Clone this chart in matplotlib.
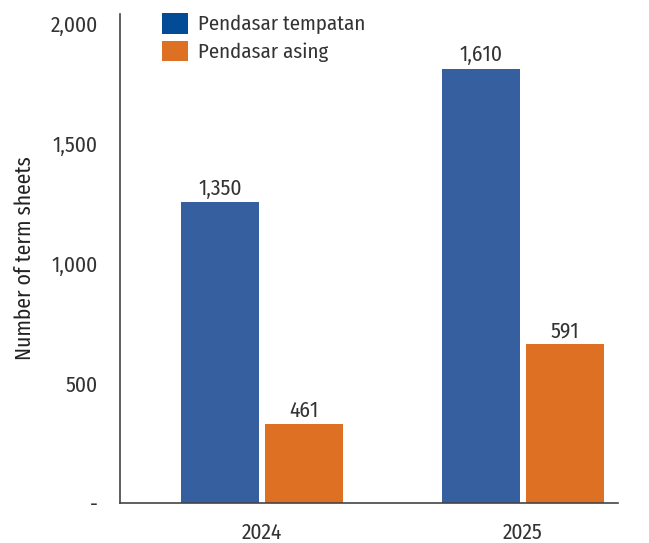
import matplotlib
matplotlib.use("Agg")
import matplotlib.pyplot as plt
from matplotlib.patches import Patch
import numpy as np

plt.rcParams['font.family'] = ['Fira Sans Condensed', 'Roboto Condensed', 'DejaVu Sans']

years = ["2024", "2025"]
series_names = ["Pendasar tempatan", "Pendasar asing"]
# bar heights as drawn in the reference
local_heights = [1254, 1812]
foreign_heights = [329, 662]
# value labels as printed in the reference
local_labels = ["1,350", "1,610"]
foreign_labels = ["461", "591"]
ytick_values = [0, 500, 1000, 1500, 2000]
ytick_labels = ["-", "500", "1,000", "1,500", "2,000"]

bar_colors = ["#355F9F", "#DE7024"]
legend_colors = ["#024B96", "#DE7024"]
text_color = "#333333"
FS = 15.5
FW = "normal"

fig = plt.figure(figsize=(6.49, 5.43), dpi=100)
ax = fig.add_axes([120/649, 1-503/543, (618-120)/649, (503-14)/543])

x = np.arange(len(years))
w = 0.30
off = 0.161
b1 = ax.bar(x - off, local_heights, w, color=bar_colors[0])
b2 = ax.bar(x + off, foreign_heights, w, color=bar_colors[1])

for bars, labels in ((b1, local_labels), (b2, foreign_labels)):
    for rect, lab in zip(bars, labels):
        ax.annotate(lab, (rect.get_x() + rect.get_width()/2, rect.get_height()),
                    xytext=(0, 2), textcoords="offset points", ha="center", va="bottom",
                    fontsize=FS, fontweight=FW, color=text_color)

ax.set_xlim(-0.544, 1.364)
ax.set_ylim(0, 2040)
ax.set_xticks(x)
ax.set_xticklabels(years, fontsize=FS, fontweight=FW, color=text_color)
ax.set_yticks(ytick_values)
ax.set_yticklabels(ytick_labels, fontsize=FS, fontweight=FW, color=text_color)
ax.tick_params(axis='both', length=0)
ax.tick_params(axis='x', pad=14)
ax.tick_params(axis='y', pad=16)
ax.set_ylabel("Number of term sheets", fontsize=FS, fontweight=FW, color="#222222", labelpad=11)

for s in ["top", "right"]:
    ax.spines[s].set_visible(False)
for s in ["left", "bottom"]:
    ax.spines[s].set_color("#444444")
    ax.spines[s].set_linewidth(1.2)

handles = [Patch(facecolor=c, edgecolor='none') for c in legend_colors]
leg = ax.legend(handles, series_names, loc="upper left", bbox_to_anchor=(0.068, 1.019),
                frameon=False, prop={"size": FS - 0.5, "weight": FW}, handlelength=1.25,
                handleheight=1.15, handletextpad=0.45, labelspacing=0.3, borderaxespad=0)
for t in leg.get_texts():
    t.set_color(text_color)

fig.savefig("out.png", dpi=100)
